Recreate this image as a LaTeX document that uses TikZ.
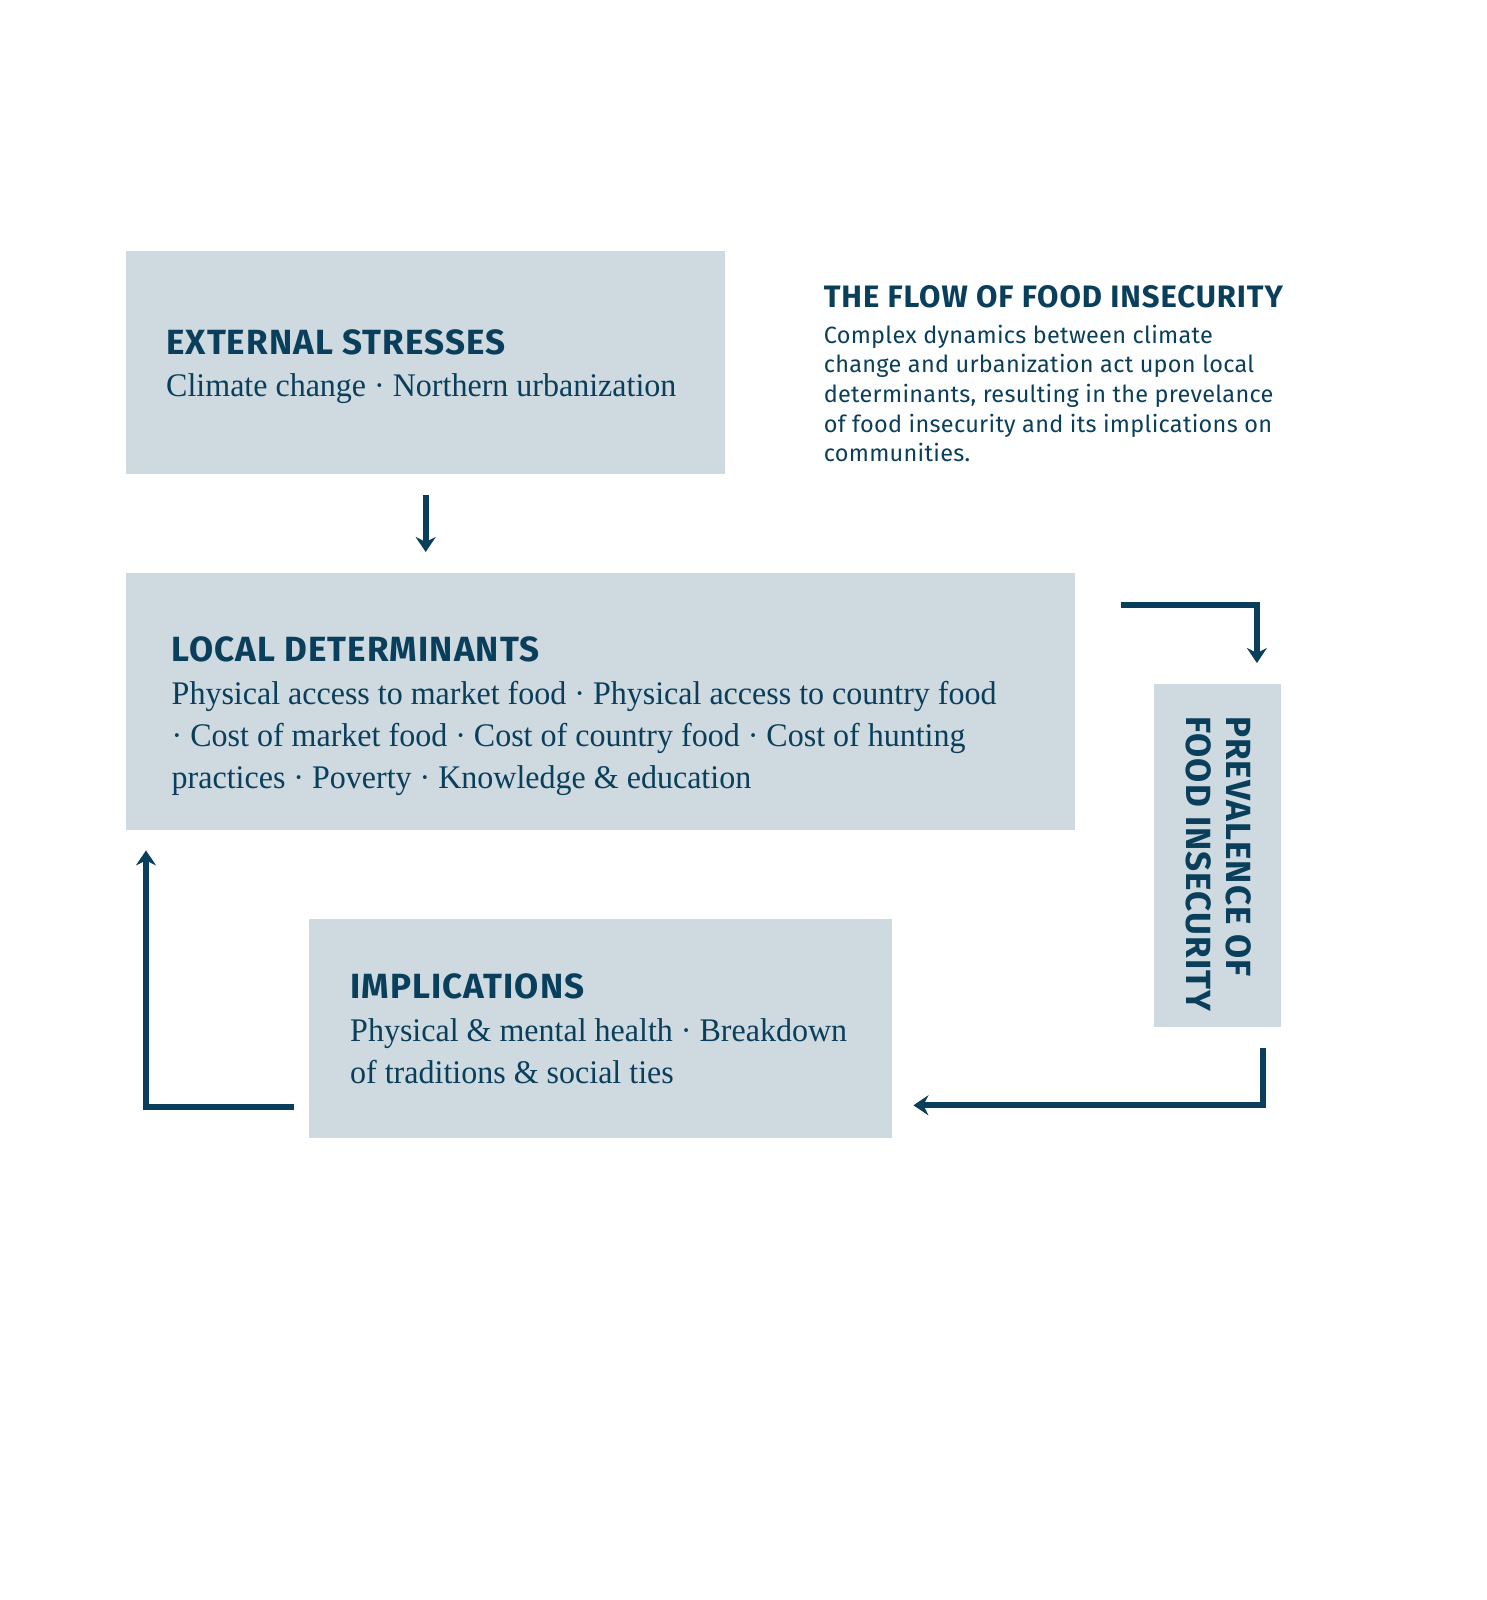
\documentclass[tikz,border=0pt]{standalone}
\usepackage{fontspec}
\usetikzlibrary{arrows.meta,calc}
\setmainfont{Liberation Serif}
\newfontfamily\headfont{Fira Sans}[LetterSpace=3]
\newfontfamily\serifbody{Liberation Serif}[FakeStretch=0.97]
\newfontfamily\descfont{Fira Sans}[LetterSpace=1.2]
\definecolor{ink}{HTML}{0A3F5C}
\definecolor{panel}{HTML}{CED9E0}
\tikzset{
  panelbox/.style={fill=panel, draw=none, inner sep=0pt, anchor=north west},
  heading/.style={anchor=base west, inner sep=0pt, text=ink, font=\headfont\bfseries\fontsize{35}{42}\selectfont},
  bodytext/.style={anchor=base west, inner sep=0pt, text=ink, align=left, font=\serifbody\fontsize{33}{41.8}\selectfont},
  desctext/.style={anchor=base west, inner sep=0pt, text=ink, align=left, font=\descfont\fontsize{23.5}{29.5}\selectfont},
  flowarrow/.style={draw=ink, line width=6pt, line join=miter, -{Stealth[length=15pt,width=20pt,inset=5pt]}}
}
\begin{document}
\begin{tikzpicture}[x=1pt,y=-1pt]
\useasboundingbox (0,0) rectangle (1486,1600);
% panels
\node[panelbox, minimum width=599pt, minimum height=223pt] (ext) at (126,251) {};
\node[panelbox, minimum width=949pt, minimum height=257pt] (loc) at (126,573) {};
\node[panelbox, minimum width=127pt, minimum height=343pt] (prev) at (1154,684) {};
\node[panelbox, minimum width=583pt, minimum height=219pt] (impl) at (309,919) {};
% panel texts
\node[heading] (exthead) at (166,354) {EXTERNAL STRESSES};
\node[bodytext] (extbody) at (166,396) {Climate change · Northern urbanization};
\node[heading] (lochead) at (171.5,661) {LOCAL DETERMINANTS};
\node[bodytext] (locbody1) at (171.5,704) {Physical access to market food · Physical access to country food};
\node[bodytext] (locbody2) at (171.5,746) {· Cost of market food · Cost of country food · Cost of hunting};
\node[bodytext] (locbody3) at (171.5,788) {practices · Poverty · Knowledge \& education};
\node[heading] (implhead) at (350,998) {IMPLICATIONS};
\node[bodytext] (implbody1) at (350,1041) {Physical \& mental health · Breakdown};
\node[bodytext] (implbody2) at (350,1083) {of traditions \& social ties};
\node[heading, rotate=-90] (prevhead1) at (1226,716) {PREVALENCE OF};
\node[heading, rotate=-90] (prevhead2) at (1186,716) {FOOD INSECURITY};
% caption
\node[heading, font=\headfont\bfseries\fontsize{31}{36}\selectfont] (flowhead) at (823.6,307) {THE FLOW OF FOOD INSECURITY};
\node[desctext] (flow1) at (823.6,343) {Complex dynamics between climate};
\node[desctext] (flow2) at (823.6,372.5) {change and urbanization act upon local};
\node[desctext] (flow3) at (823.6,402) {determinants, resulting in the prevelance};
\node[desctext] (flow4) at (823.6,432) {of food insecurity and its implications on};
\node[desctext] (flow5) at (823.6,461) {communities.};
% connectors
\draw[flowarrow] ([yshift=-21pt]ext.south) -- ([yshift=21pt]ext.south |- loc.north);
\coordinate (rstart) at ($(loc.north east)+(45.6,32)$);
\draw[flowarrow] (rstart) -| ([xshift=-24.5pt,yshift=21pt]prev.north east);
\coordinate (bstart) at ($(prev.south east)+(-18.5,21)$);
\draw[flowarrow] (bstart) |- ([xshift=21pt]impl.east |- 0,1105.3);
\coordinate (lstart) at ($(impl.west)+(-15,78.4)$);
\draw[flowarrow] (lstart) -| ([xshift=20pt,yshift=-20pt]loc.south west);
\end{tikzpicture}
\end{document}
